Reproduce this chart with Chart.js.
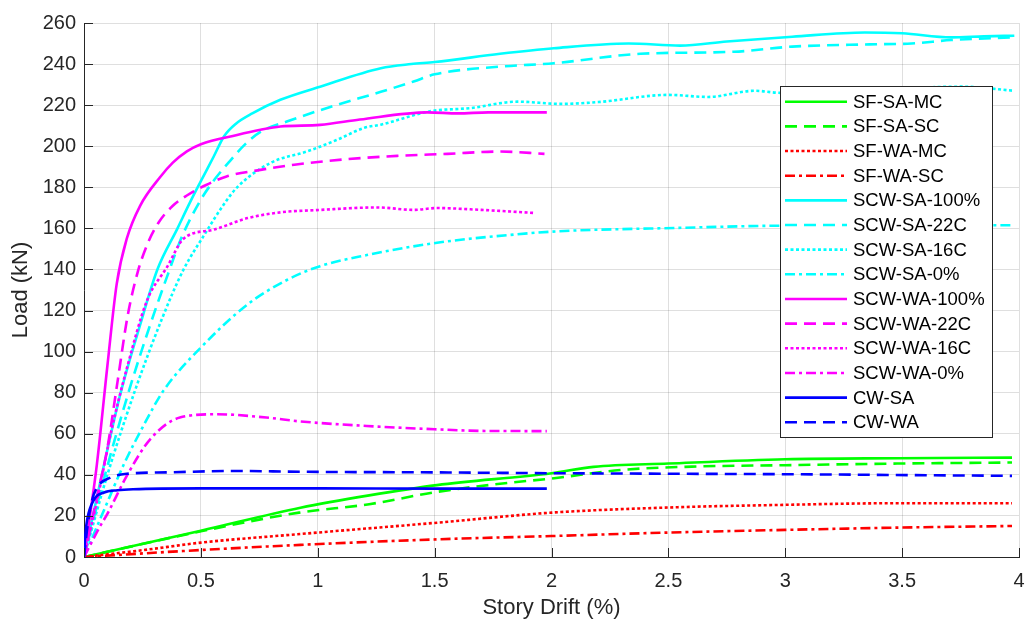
<!DOCTYPE html>
<html><head><meta charset="utf-8">
<script src="https://cdn.jsdelivr.net/npm/chart.js@4/dist/chart.umd.min.js"></script>
<style>html,body{margin:0;padding:0;background:#fff;overflow:hidden}#wrap{width:1027px;height:622px}</style>
</head><body><div id="wrap"><canvas id="c" width="1027" height="622"></canvas></div>
<script>
// ---- data (Story Drift %, Load kN) ----
const seriesNames = ['SF-SA-MC','SF-SA-SC','SF-WA-MC','SF-WA-SC','SCW-SA-100%','SCW-SA-22C','SCW-SA-16C','SCW-SA-0%','SCW-WA-100%','SCW-WA-22C','SCW-WA-16C','SCW-WA-0%','CW-SA','CW-WA'];

const sfSaMcDrift = [0,0.5,0.926,1.22,1.51,2,2.18,2.5,3,3.48,3.97];
const sfSaMcLoad  = [0,12.8,24,30,35,40.8,43.9,45.5,47.6,48.1,48.4];

const sfSaScDrift = [0,0.5,0.92,1.22,1.51,1.83,2,2.3,2.6,3,3.48,3.97];
const sfSaScLoad  = [0,12.5,21.6,25.7,31.7,36.3,38.2,42.4,44,44.7,45.5,46];

const sfWaMcDrift = [0,0.25,0.5,0.926,1.51,2,2.5,3,3.48,3.97];
const sfWaMcLoad  = [0,3.3,7,11.2,16.7,21.6,24.1,25.4,26.2,26.2];

const sfWaScDrift = [0,0.5,0.926,1.51,2,2.5,3,3.48,3.97];
const sfWaScLoad  = [0,3.4,5.9,8.6,10.2,11.9,13.2,14.3,15.1];

const scwSa100Drift = [0,0.08,0.157,0.24,0.314,0.4,0.455,0.5,0.555,0.6,0.65,0.72,0.84,1.01,1.27,1.4,1.5,1.78,2.01,2.33,2.55,2.75,3.03,3.34,3.5,3.71,3.85,3.98];
const scwSa100Load  = [0,42,80,113,140,160,173,183,195,205,211,216,222.6,229,238,240,241,245,247.7,250,249,251,253.3,255.4,255,253,253.5,253.8];

const scwSa22Drift = [0,0.09,0.19,0.28,0.36,0.419,0.5,0.56,0.626,0.69,0.755,0.88,1.05,1.27,1.41,1.5,1.785,2.01,2.38,2.78,3.03,3.36,3.54,3.71,3.98];
const scwSa22Load  = [0,40,80,112,138,156,174,184,193,201,207,212.5,219,226.5,231.5,235,238.8,240.4,245,246,248.5,249.6,250,251.7,253];

const scwSa16Drift = [0,0.1,0.215,0.33,0.426,0.51,0.6,0.655,0.8,0.955,1.08,1.2,1.27,1.48,1.655,1.855,2.04,2.2,2.5,2.67,2.87,2.98,3.2,3.45,3.755,3.98];
const scwSa16Load  = [0,40,80,115,140,156,172,180,192,197.5,203,209,210.5,217,218.6,221.7,220.6,221.5,225,224,227,226,227,228,229,227];

const scwSa0Drift = [0,0.09,0.17,0.25,0.34,0.5,0.7,0.87,1.01,1.21,1.51,1.84,2.03,2.525,2.97,3.5,3.98];
const scwSa0Load  = [0,24,45,63,81,102,123,135,141.6,147,153,157,158.6,160.2,161.3,161.5,161.5];

const scwWa100Drift = [0,0.055,0.1,0.14,0.183,0.24,0.326,0.38,0.44,0.5,0.655,0.755,0.84,1.01,1.18,1.47,1.6,1.73,1.98];
const scwWa100Load  = [0,45,93,133,155,171,185,192,197.5,201,205.5,208,209.6,210.4,213,216.5,216,216.5,216.5];

const scwWa22Drift = [0,0.057,0.1,0.143,0.186,0.228,0.27,0.32,0.38,0.44,0.52,0.61,0.755,0.9,1.126,1.34,1.555,1.78,1.97];
const scwWa22Load  = [0,30,53,85,117,138,152,163,171,176,181,185.3,188.5,191,193.7,195.3,196.3,197.4,196.3];

const scwWa16Drift = [0,0.057,0.114,0.186,0.27,0.357,0.426,0.555,0.7,0.84,1.01,1.255,1.41,1.51,1.7,1.93];
const scwWa16Load  = [0,28,60,93,125,141.5,155,159.4,165,167.8,169,170.2,169,169.9,169,167.5];

const scwWa0Drift = [0,0.069,0.1,0.183,0.283,0.41,0.569,0.78,0.926,1.21,1.5,1.7,1.98];
const scwWa0Load  = [0,15,21,39.5,57.3,67.9,69.5,67.9,66,63.8,62.2,61.4,61.3];

const cwSaDrift = [0,0.005,0.014,0.043,0.086,0.143,0.21,0.5,1,1.5,1.98];
const cwSaLoad  = [0,10,18.5,28,31.4,32.5,33,33.4,33.4,33.3,33.3];

const cwWaDrift = [0,0.015,0.033,0.057,0.11,0.183,0.355,0.64,0.926,1.5,2,3,3.97];
const cwWaLoad  = [0,15,27,34,38.5,40.5,41.2,41.9,41.5,41.2,40.8,40.3,39.5];

const xTickValues = [0,0.5,1,1.5,2,2.5,3,3.5,4];
const yTickValues = [0,20,40,60,80,100,120,140,160,180,200,220,240,260];

// ---- styles ----
const GREEN='#00ff00', RED='#ff0000', CYAN='#00ffff', MAG='#ff00ff', BLUE='#0000ff';
const SOLID=[], DASH=[12,7], DOT=[3,2.5], DASHDOT=[10,4,3,4];
const seriesData = [
  [sfSaMcDrift,sfSaMcLoad,GREEN,SOLID],
  [sfSaScDrift,sfSaScLoad,GREEN,DASH],
  [sfWaMcDrift,sfWaMcLoad,RED,DOT],
  [sfWaScDrift,sfWaScLoad,RED,DASHDOT],
  [scwSa100Drift,scwSa100Load,CYAN,SOLID],
  [scwSa22Drift,scwSa22Load,CYAN,DASH],
  [scwSa16Drift,scwSa16Load,CYAN,DOT],
  [scwSa0Drift,scwSa0Load,CYAN,DASHDOT],
  [scwWa100Drift,scwWa100Load,MAG,SOLID],
  [scwWa22Drift,scwWa22Load,MAG,DASH],
  [scwWa16Drift,scwWa16Load,MAG,DOT],
  [scwWa0Drift,scwWa0Load,MAG,DASHDOT],
  [cwSaDrift,cwSaLoad,BLUE,SOLID],
  [cwWaDrift,cwWaLoad,BLUE,DASH]
];

const datasets = seriesData.map((s,i)=>({
  label: seriesNames[i],
  data: s[0].map((x,j)=>({x:x,y:s[1][j]})),
  borderColor: s[2],
  borderDash: s[3],
  borderWidth: 2.6,
  pointRadius: 0,
  fill: false,
  showLine: true,
  cubicInterpolationMode: 'monotone',
  order: seriesData.length - i
}));

const FONT = '"Liberation Sans", Arial, Helvetica, sans-serif';
const AXC = '#262626';

const decor = {
  id: 'decor',
  afterDatasetsDraw(chart) {
    const {ctx, chartArea: a, scales: {x, y}} = chart;
    ctx.save();
    // inward tick marks
    ctx.strokeStyle = AXC; ctx.lineWidth = 1; ctx.setLineDash([]);
    ctx.beginPath();
    yTickValues.forEach(v => { const py = Math.round(y.getPixelForValue(v)) + 0.5; ctx.moveTo(a.left, py); ctx.lineTo(a.left + 9, py); });
    xTickValues.forEach(v => { const px = Math.round(x.getPixelForValue(v)) + 0.5; ctx.moveTo(px, a.bottom); ctx.lineTo(px, a.bottom - 9); });
    ctx.stroke();
    // legend box
    const L = 780, T = 86, W = 212, H = 351;
    ctx.fillStyle = '#fff'; ctx.fillRect(L, T, W, H);
    ctx.strokeStyle = AXC; ctx.lineWidth = 1;
    ctx.strokeRect(L + 0.5, T + 0.5, W, H);
    chart.data.datasets.forEach((ds, i) => {
      const cy = 101.7 + i * 24.66;
      ctx.strokeStyle = ds.borderColor; ctx.lineWidth = ds.borderWidth;
      ctx.setLineDash(ds.borderDash || []);
      ctx.beginPath(); ctx.moveTo(785, cy); ctx.lineTo(847, cy); ctx.stroke();
      ctx.setLineDash([]);
      ctx.fillStyle = '#000'; ctx.font = '18.5px ' + FONT;
      ctx.textBaseline = 'middle'; ctx.textAlign = 'left';
      ctx.fillText(ds.label, 853, cy + 1);
    });
    ctx.restore();
  }
};

new Chart(document.getElementById('c'), {
  type: 'scatter',
  data: { datasets },
  options: {
    responsive: false,
    animation: false,
    devicePixelRatio: 1,
    layout: { padding: { left: 0, right: 8, top: 23, bottom: 0 } },
    plugins: { legend: { display: false }, tooltip: { enabled: false } },
    scales: {
      x: {
        type: 'linear', min: 0, max: 4,
        afterBuildTicks: s => { s.ticks = xTickValues.map(v => ({value: v})); },
        afterFit: s => { s.height = 65; s.paddingLeft = 0; s.paddingRight = 0; },
        ticks: { color: AXC, font: { family: FONT, size: 20 }, padding: 12, maxRotation: 0, autoSkip: false, callback: v => String(v) },
        grid: { color: 'rgba(38,38,38,0.15)', drawTicks: false },
        border: { display: true, color: AXC, width: 1 },
        title: { display: true, text: 'Story Drift (%)', color: AXC, font: { family: FONT, size: 22 }, padding: { top: 0, bottom: 1 } }
      },
      y: {
        type: 'linear', min: 0, max: 260,
        afterBuildTicks: s => { s.ticks = yTickValues.map(v => ({value: v})); },
        afterFit: s => { s.width = 84; s.paddingTop = 0; s.paddingBottom = 0; },
        ticks: { color: AXC, font: { family: FONT, size: 20 }, padding: 8, callback: v => String(v) },
        grid: { color: 'rgba(38,38,38,0.15)', drawTicks: false },
        border: { display: true, color: AXC, width: 1 },
        title: { display: true, text: 'Load (kN)', color: AXC, font: { family: FONT, size: 22 }, padding: { top: 8, bottom: 0 } }
      }
    }
  },
  plugins: [decor]
});
</script>
</body></html>
